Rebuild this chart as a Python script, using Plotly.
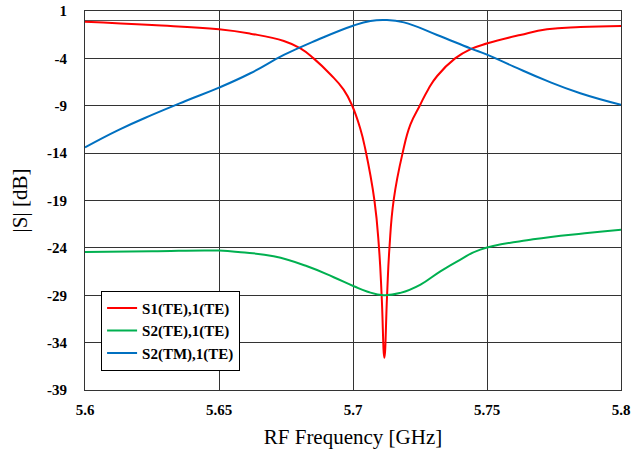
import plotly.graph_objects as go

# S1(TE),1(TE)
f_red = [5.600, 5.625, 5.650, 5.6617, 5.6742, 5.6804, 5.6853, 5.6916, 5.6965, 5.6997, 5.7027,
         5.7046, 5.7080, 5.7097, 5.7107, 5.7117, 5.7127, 5.7136, 5.7152, 5.7185, 5.7214,
         5.7249, 5.7280, 5.7314, 5.7381, 5.7438, 5.7502, 5.7624, 5.7724, 5.7848, 5.800]
s_red = [-0.13, -0.48, -0.93, -1.39, -2.16, -2.94, -4.0, -5.7, -7.3, -9.0, -11.4,
         -13.6, -19.0, -24.0, -29.1, -35.6, -29.1, -24.0, -18.9, -14.0, -11.0,
         -9.0, -7.3, -5.86, -4.0, -3.04, -2.41, -1.53, -0.93, -0.69, -0.58]

# S2(TE),1(TE)
f_green = [5.600, 5.625, 5.650, 5.6581, 5.6704, 5.6829, 5.6928, 5.7003, 5.7052, 5.7115,
           5.7177, 5.7252, 5.7326, 5.7401, 5.7475, 5.7672, 5.7865, 5.800]
s_green = [-24.43, -24.35, -24.29, -24.46, -24.89, -25.94, -27.1, -28.05, -28.6, -29.0,
           -28.75, -27.87, -26.47, -25.23, -24.18, -23.1, -22.46, -22.1]

# S2(TM),1(TE)
f_blue = [5.600, 5.6126, 5.625, 5.6375, 5.650, 5.6617, 5.6742, 5.6866, 5.700, 5.7065, 5.712,
          5.719, 5.7314, 5.7438, 5.750, 5.760, 5.7724, 5.7848, 5.800]
s_blue = [-13.4, -11.55, -9.97, -8.5, -7.09, -5.57, -3.64, -2.06, -0.55, -0.05, 0.05,
          -0.2, -1.53, -2.94, -3.6, -4.87, -6.38, -7.68, -8.9]

names = ["S1(TE),1(TE)", "S2(TE),1(TE)", "S2(TM),1(TE)"]
colors = ["#FF0000", "#00B050", "#0070C0"]

x_ticks = [5.6, 5.65, 5.7, 5.75, 5.8]
x_tick_text = ["5.6", "5.65", "5.7", "5.75", "5.8"]
y_ticks = [1, -4, -9, -14, -19, -24, -29, -34, -39]
y_tick_text = ["1", "-4", "-9", "-14", "-19", "-24", "-29", "-34", "-39"]

SERIF = "Liberation Serif, Times New Roman, serif"

fig = go.Figure()
for fx, sy, nm, col in zip([f_red, f_green, f_blue], [s_red, s_green, s_blue], names, colors):
    fig.add_trace(go.Scatter(x=fx, y=sy, name=nm, mode="lines",
                             line=dict(color=col, width=2, shape="spline", smoothing=1.3)))

fig.update_layout(
    width=634, height=462,
    margin=dict(l=85, r=13, t=11, b=72),
    paper_bgcolor="white", plot_bgcolor="white",
    font=dict(family=SERIF, color="black"),
    showlegend=True,
    legend=dict(x=0.03, y=0.262, xanchor="left", yanchor="top",
                bordercolor="black", borderwidth=1, bgcolor="white",
                font=dict(family=SERIF, size=15, weight="bold", color="black"),
                tracegroupgap=0, itemwidth=30),
)
fig.update_xaxes(
    range=[5.6, 5.8], tickvals=x_ticks, ticktext=x_tick_text, automargin=False,
    showgrid=True, gridcolor="#333333", gridwidth=1,
    showline=True, linecolor="#333333", linewidth=1, mirror=True,
    ticks="", ticklabelstandoff=6, zeroline=False,
    tickfont=dict(family=SERIF, size=15, weight="bold", color="black"),
    title=dict(text="RF Frequency [GHz]", font=dict(family=SERIF, size=21, color="black"), standoff=12),
)
fig.update_yaxes(
    range=[-39, 1], tickvals=y_ticks, ticktext=y_tick_text, automargin=False,
    showgrid=True, gridcolor="#333333", gridwidth=1,
    showline=True, linecolor="#333333", linewidth=1, mirror=True,
    ticks="", ticklabelstandoff=14,
    zeroline=True, zerolinecolor="#555555", zerolinewidth=1,
    tickfont=dict(family=SERIF, size=15, weight="bold", color="black"),
    title=dict(text="|S| [dB]", font=dict(family=SERIF, size=21, color="black"), standoff=13),
)

fig.write_html("out.html", config={"displayModeBar": False},
               post_script="document.body.style.margin='0px';")
